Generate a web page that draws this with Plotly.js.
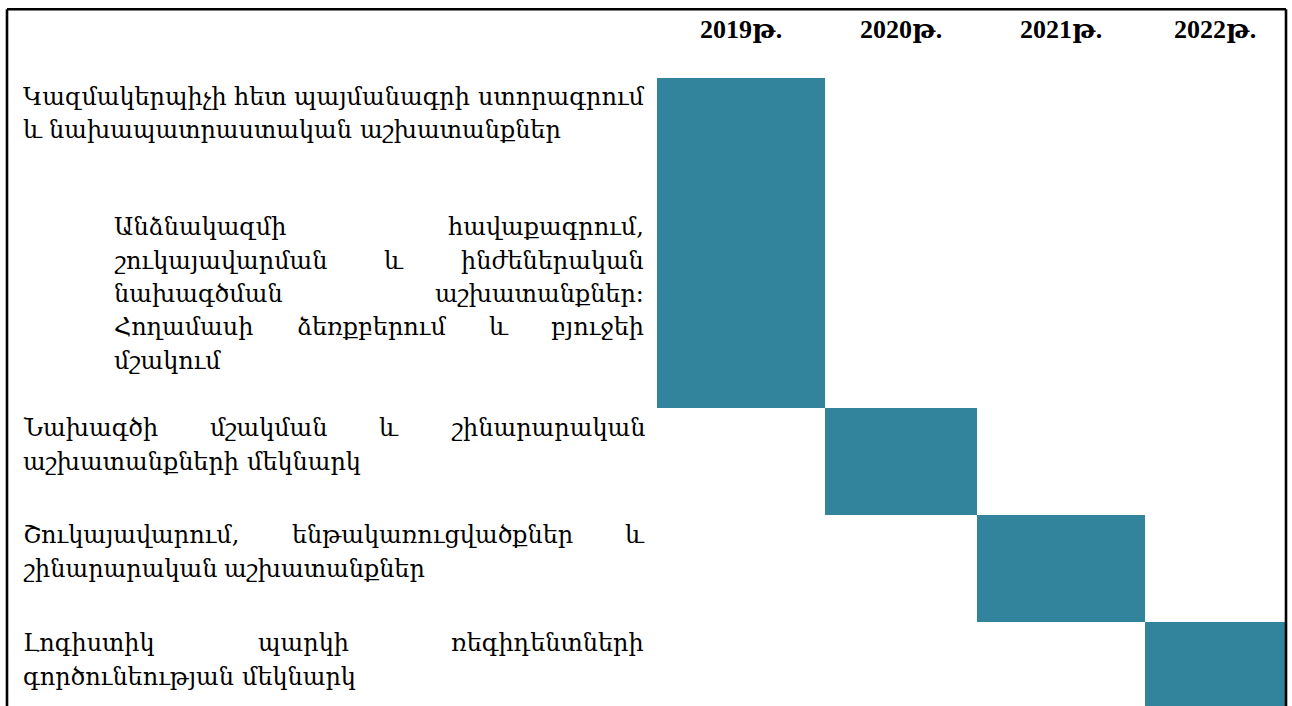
<!DOCTYPE html>
<html><head><meta charset="utf-8">
<script src="https://cdn.plot.ly/plotly-3.0.1.min.js"></script>
<style>html,body{margin:0;padding:0;background:#fff;} #chart{width:1292px;height:706px;}</style>
</head><body><div id="chart"></div>
<script>
// ---- data ----
const yearLabels = ['2019թ.', '2020թ.', '2021թ.', '2022թ.'];
const taskLines = [
  ['Կազմակերպիչի հետ պայմանագրի ստորագրում', 'և նախապատրաստական աշխատանքներ'],
  ['Անձնակազմի հավաքագրում,', 'շուկայավարման և ինժեներական', 'նախագծման աշխատանքներ:', 'Հողամասի ձեռքբերում և բյուջեի', 'մշակում'],
  ['Նախագծի մշակման և շինարարական', 'աշխատանքների մեկնարկ'],
  ['Շուկայավարում, ենթակառուցվածքներ և', 'շինարարական աշխատանքներ'],
  ['Լոգիստիկ պարկի ռեգիդենտների', 'գործունեության մեկնարկ']
];
const taskStartYear = ['2019թ.', '2019թ.', '2020թ.', '2021թ.', '2022թ.'];
const taskEndYear   = ['2019թ.', '2019թ.', '2020թ.', '2021թ.', '2022թ.'];

// ---- layout (sizes in px) ----
const W = 1292, H = 706;
const tableLeft = 657, tableRight = 1285, headerBottom = 78;
const colWidths = [168, 152, 168, 140];
const rowHeights = [90, 240, 107, 107, 107];
const textLeft = [22, 113, 22, 22, 22];
const textRight = 643;
const firstLineY = [97, 227, 428, 535, 643];
const lineGap = 33.5;
const barColor = '#32849C';
const textFamily = '"DejaVu Serif"';
const headFamily = '"Liberation Serif", "DejaVu Serif"';

const colEdges = [0];
colWidths.forEach(w => colEdges.push(colEdges[colEdges.length - 1] + w));
const rowEdges = [0];
rowHeights.forEach(h => rowEdges.push(rowEdges[rowEdges.length - 1] + h));

const barBase = [], barLen = [], barY = [], barW = [];
taskLines.forEach((_, i) => {
  const s = yearLabels.indexOf(taskStartYear[i]);
  const e = yearLabels.indexOf(taskEndYear[i]) + 1;
  barBase.push(colEdges[s]);
  barLen.push(colEdges[e] - colEdges[s]);
  barY.push((rowEdges[i] + rowEdges[i + 1]) / 2);
  barW.push(rowHeights[i]);
});

const ctx = document.createElement('canvas').getContext('2d');
function measure(t, size) { ctx.font = size + 'px ' + textFamily; return ctx.measureText(t).width; }

// font size: as large as possible while the first line still fits its box
const fontSize = Math.min(24, 24 * (textRight - textLeft[0]) / measure(taskLines[0][0], 24));

const annotations = [];
taskLines.forEach((lines, i) => {
  lines.forEach((line, j) => {
    const words = line.split(' ');
    const widths = words.map(wd => measure(wd, fontSize));
    const last = j === lines.length - 1;
    let gap = measure(' ', fontSize);
    if (!last && words.length > 1) {
      gap = (textRight - textLeft[i] - widths.reduce((a, b) => a + b, 0)) / (words.length - 1);
    }
    let x = textLeft[i];
    const y = firstLineY[i] + j * lineGap;
    words.forEach((wd, k) => {
      annotations.push({
        text: wd, xref: 'paper', yref: 'paper', x: x / W, y: 1 - y / H,
        xanchor: 'left', yanchor: 'middle', showarrow: false, borderpad: 0,
        font: {family: textFamily, size: fontSize, color: '#000'}
      });
      x += widths[k] + gap;
    });
  });
});
yearLabels.forEach((lab, k) => {
  annotations.push({
    text: '<b>' + lab + '</b>', xref: 'x', yref: 'paper',
    x: (colEdges[k] + colEdges[k + 1]) / 2, y: 1 - 30 / H,
    xanchor: 'center', yanchor: 'middle', showarrow: false,
    font: {family: headFamily, size: 26, color: '#000'}
  });
});

const trace = {
  type: 'bar', orientation: 'h', base: barBase, x: barLen, y: barY, width: barW,
  marker: {color: barColor, line: {width: 0}}, hoverinfo: 'skip'
};

const bw = 2.6;
const shapes = [
  {type: 'line', xref: 'paper', yref: 'paper', x0: 7 / W, x1: 7 / W, y0: -0.2, y1: 1 - 9.3 / H, line: {color: '#000', width: bw}},
  {type: 'line', xref: 'paper', yref: 'paper', x0: 1286 / W, x1: 1286 / W, y0: -0.2, y1: 1 - 9.3 / H, line: {color: '#000', width: bw}},
  {type: 'line', xref: 'paper', yref: 'paper', x0: 7 / W, x1: 1286 / W, y0: 1 - 9.3 / H, y1: 1 - 9.3 / H, line: {color: '#000', width: bw}}
];

const layout = {
  width: W, height: H, margin: {l: 0, r: 0, t: 0, b: 0},
  paper_bgcolor: '#fff', plot_bgcolor: '#fff', showlegend: false, bargap: 0,
  xaxis: {domain: [tableLeft / W, tableRight / W], range: [0, colEdges[colEdges.length - 1]], visible: false, fixedrange: true},
  yaxis: {domain: [0, 1 - headerBottom / H], range: [H - headerBottom, 0], visible: false, fixedrange: true},
  annotations: annotations, shapes: shapes
};
Plotly.newPlot('chart', [trace], layout, {staticPlot: true, displayModeBar: false});
</script>
</body></html>
